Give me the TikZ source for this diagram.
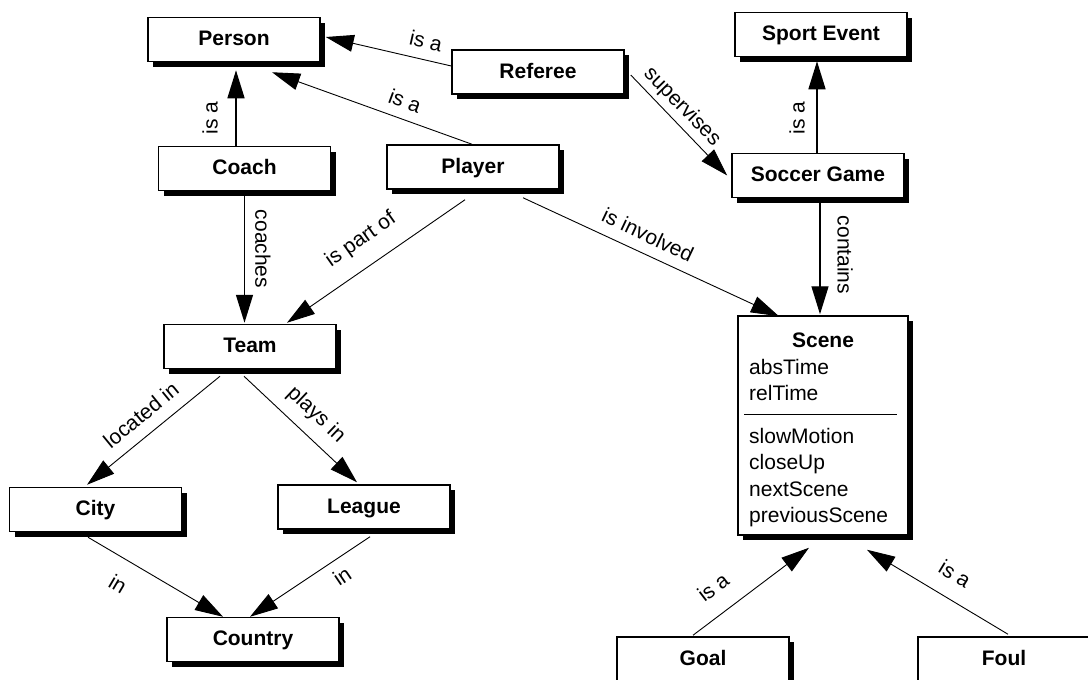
\documentclass[tikz,border=0pt]{standalone}
\usepackage{fontspec}
\setmainfont{Liberation Sans}
\usetikzlibrary{arrows.meta,shadows,calc}

\begin{document}
\begin{tikzpicture}[x=1pt,y=-1pt,
  box/.style={draw, line width=1.5pt, fill=white,
    minimum width=172pt, minimum height=44pt, inner sep=0pt,
    font=\bfseries\fontsize{21}{25}\selectfont,
    text height=15pt, text depth=3pt,
    drop shadow={shadow xshift=5pt, shadow yshift=-5pt, fill=black, opacity=1}},
  lbl/.style={font=\fontsize{21}{25}\selectfont, inner sep=0pt},
  attr/.style={font=\fontsize{21}{25}\selectfont, inner sep=0pt, anchor=base west},
  rel/.style={line width=0.9pt, -{Triangle[length=28pt,width=17pt]}},
  relv/.style={line width=1.4pt, -{Triangle[length=28pt,width=17pt]}}]

\clip (0,0) rectangle (1088,680);
\fill[white] (0,0) rectangle (1088,680);

% classes
\node[box] (person)  at (234,39.5)  {Person};
\node[box] (referee) at (538,72)    {Referee};
\node[box] (coach)   at (244.5,168.5) {Coach};
\node[box] (player)  at (473,167)   {Player};
\node[box] (sport)   at (821,34.5)  {Sport Event};
\node[box] (soccer)  at (818,175.5) {Soccer Game};
\node[box] (team)    at (250,346.5) {Team};
\node[box] (city)    at (95.5,509.5) {City};
\node[box] (league)  at (364,507)   {League};
\node[box] (country) at (253,639.5) {Country};
\node[box] (goal)    at (703,659)   {};
\node[box] (foul)    at (1004,659)  {};
\node[box, minimum width=170pt, minimum height=219pt] (scene) at (823,425.5) {};

% titles of the two lower boxes sit near their top edge
\node[lbl, font=\bfseries\fontsize{21}{25}\selectfont, anchor=base] (goalt) at (703,665) {Goal};
\node[lbl, font=\bfseries\fontsize{21}{25}\selectfont, anchor=base] (foult) at (1004,665) {Foul};

% scene class: name, attributes, operations
\node[lbl, font=\bfseries\fontsize{21}{25}\selectfont, anchor=base] (scenet) at (823,347) {Scene};
\node[attr] (a1) at (749,374) {absTime};
\node[attr] (a2) at (749,400) {relTime};
\draw[line width=1.3pt] ($(scene.north west)+(7,99)$) -- ($(scene.north east)+(-12,99)$);
\node[attr] (o1) at (749,443)   {slowMotion};
\node[attr] (o2) at (749,469.5) {closeUp};
\node[attr] (o3) at (749,496)   {nextScene};
\node[attr] (o4) at (749,522.5) {previousScene};

% relations
\draw[rel]  ([yshift=6pt]referee.west) -- ([xshift=5pt,yshift=2.5pt]person.east);
\draw[rel]  ([xshift=-1pt]player.north) -- ([xshift=38pt,yshift=-10pt]person.south);
\draw[relv] ([xshift=-8.5pt]coach.north) -- ([xshift=2pt,yshift=-8pt]person.south);
\draw[relv] (coach.south) -- ([xshift=-5.5pt,yshift=1pt]team.north);
\draw[rel]  ([xshift=-8pt,yshift=-10pt]player.south) -- ([xshift=37pt,yshift=1pt]team.north);
\draw[rel]  ([xshift=50pt,yshift=-8pt]player.south) -- ([xshift=-44pt,yshift=-1pt]scene.north);
\draw[rel]  ([xshift=6pt,yshift=-3pt]referee.east) -- ([xshift=-4pt]soccer.west);
\draw[relv] ([xshift=-1pt]soccer.north) -- ([xshift=-4pt,yshift=-4pt]sport.south);
\draw[relv] ([xshift=2pt]soccer.south) -- ([xshift=-3pt,yshift=1pt]scene.north);
\draw[rel]  ([xshift=-30pt,yshift=-7pt]team.south) -- ([xshift=-8.5pt,yshift=2pt]city.north);
\draw[rel]  ([xshift=-6pt,yshift=-7pt]team.south) -- ([xshift=-7pt,yshift=2pt]league.north);
\draw[rel]  ([xshift=-7.5pt,yshift=-5pt]city.south) -- ([xshift=-30pt]country.north);
\draw[rel]  ([xshift=6pt,yshift=-7pt]league.south) -- ([xshift=-3pt]country.north);
\draw[rel]  ([xshift=-10pt,yshift=1pt]goal.north) -- ([xshift=-14pt,yshift=-12pt]scene.south);
\draw[rel]  ([xshift=4pt,yshift=2pt]foul.north) -- ([xshift=44pt,yshift=-14pt]scene.south);

% relation labels
\node[lbl, rotate=-12.9] (l1)  at (426,41)  {is a};
\node[lbl, rotate=-20.3] (l2)  at (405,101) {is a};
\node[lbl, rotate=90]    (l3)  at (210,118) {is a};
\node[lbl, rotate=-90]   (l4)  at (263,249) {coaches};
\node[lbl, rotate=35.1]  (l5)  at (361,240) {is part of};
\node[lbl, rotate=-25.3] (l6)  at (648,235) {is involved};
\node[lbl, rotate=-45.6] (l7)  at (682,107) {supervises};
\node[lbl, rotate=90]    (l8)  at (797,118) {is a};
\node[lbl, rotate=-90]   (l9)  at (845,255) {contains};
\node[lbl, rotate=39.3]  (l10) at (141,415) {located in};
\node[lbl, rotate=-43.4] (l11) at (316,415) {plays in};
\node[lbl, rotate=-30.6] (l12) at (118,584) {in};
\node[lbl, rotate=34]    (l13) at (342,576) {in};
\node[lbl, rotate=37.5]  (l14) at (713,587) {is a};
\node[lbl, rotate=-31.4] (l15) at (955,574) {is a};
\end{tikzpicture}
\end{document}
